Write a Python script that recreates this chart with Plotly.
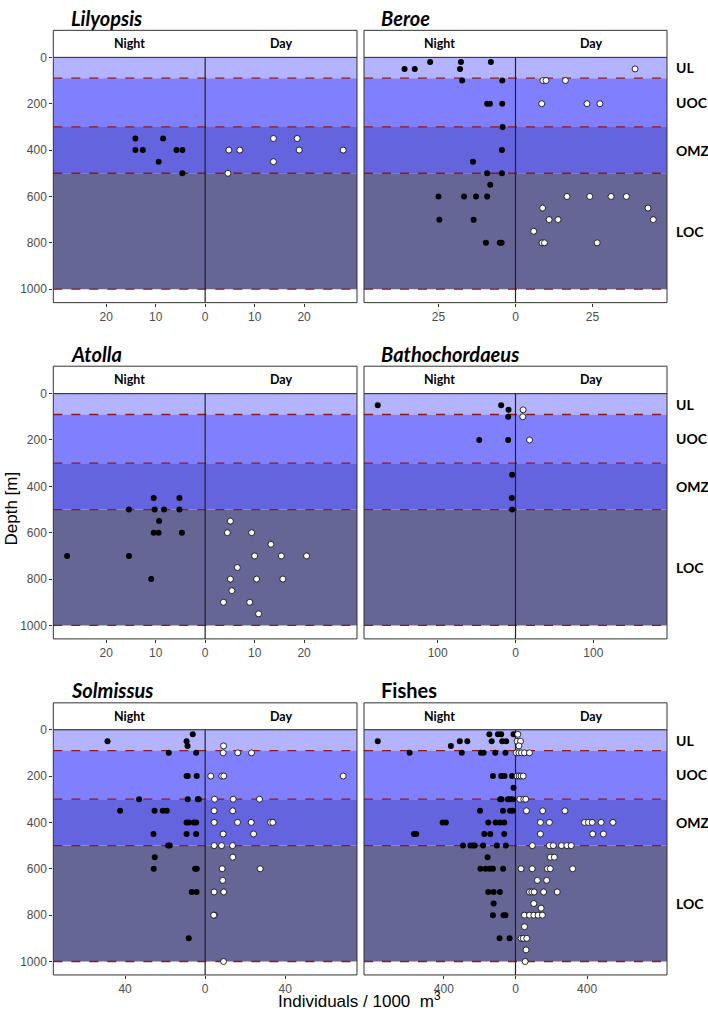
import plotly.graph_objects as go

# ---------------- data (night values are abundances, plotted to the left) ----------------
lilyopsis_night_depth = [350, 350, 400, 400, 400, 400, 450, 500]
lilyopsis_night_val = [14.1, 8.5, 14.1, 12.6, 5.8, 4.6, 9.4, 4.6]
lilyopsis_day_depth = [400, 400, 350, 350, 400, 400, 450, 500]
lilyopsis_day_val = [4.8, 7.0, 13.8, 18.6, 19.0, 27.9, 13.8, 4.6]

beroe_night_depth = [20, 20, 20, 50, 50, 50, 100, 100, 200, 200, 200, 300, 400, 450, 500, 500,
                     550, 600, 600, 600, 600, 700, 700, 800, 800, 800]
beroe_night_val = [27.7, 17.7, 8.0, 36.0, 32.7, 18.0, 17.3, 4.3, 9.2, 8.3, 4.3, 4.2, 4.4, 13.8, 9.2, 4.4,
                   8.2, 25.0, 16.7, 12.8, 9.2, 24.7, 13.6, 9.6, 5.1, 4.5]
beroe_day_depth = [50, 100, 100, 100, 200, 200, 200, 600, 600, 600, 600, 650, 650, 700, 700, 700,
                   750, 800, 800, 800]
beroe_day_val = [38.8, 8.9, 9.9, 16.2, 8.5, 23.2, 27.4, 16.7, 24.1, 31.0, 36.0, 8.8, 43.0, 10.9, 13.8, 44.7,
                 5.9, 8.6, 9.4, 26.5]

atolla_night_depth = [450, 450, 500, 500, 500, 500, 550, 600, 600, 600, 700, 700, 800]
atolla_night_val = [10.4, 5.2, 15.4, 10.2, 8.3, 5.2, 9.3, 10.4, 9.4, 4.7, 27.9, 15.4, 10.9]
atolla_day_depth = [550, 600, 600, 650, 700, 700, 700, 750, 800, 800, 800, 850, 900, 900, 950]
atolla_day_val = [5.1, 4.5, 9.4, 13.3, 10.0, 15.4, 20.5, 6.5, 5.1, 10.4, 15.7, 5.4, 3.7, 9.0, 10.8]

batho_night_depth = [50, 50, 70, 100, 200, 200, 350, 450, 500]
batho_night_val = [177.0, 18.4, 9.0, 9.4, 46.6, 9.4, 4.3, 4.7, 4.3]
batho_day_depth = [70, 100, 200]
batho_day_val = [9.8, 9.4, 18.0]

solmissus_night_depth = [20, 50, 50, 70, 100, 100, 200, 200, 200, 300, 300, 300, 300, 350, 350, 350, 350,
                         400, 400, 400, 400, 450, 450, 450, 500, 500, 550, 600, 600, 600, 700, 700, 900]
solmissus_night_val = [6.2, 48.8, 9.3, 8.8, 18.2, 4.5, 9.3, 8.7, 4.2, 33.0, 8.7, 3.7, 3.2, 42.5, 25.3, 21.2, 19.2,
                       9.3, 8.2, 5.7, 4.5, 25.8, 9.3, 4.5, 18.5, 17.7, 25.2, 25.7, 5.0, 4.2, 6.7, 4.3, 8.2]
solmissus_day_depth = [70, 100, 100, 100, 200, 200, 200, 200, 300, 300, 300, 350, 350, 400, 400, 400, 400, 400,
                       450, 450, 500, 500, 500, 550, 600, 600, 650, 700, 700, 800, 800, 1000]
solmissus_day_val = [9.2, 9.0, 16.3, 23.2, 2.8, 8.3, 9.3, 69.0, 4.7, 14.0, 27.2, 4.5, 13.8, 4.5, 16.2, 23.0, 32.7, 33.8,
                     9.0, 24.2, 4.5, 8.2, 13.7, 13.8, 8.5, 27.5, 8.8, 4.5, 9.3, 4.7, 4.3, 9.2]

fishes_night_depth = [20, 20, 20, 20,
                      50, 50, 50, 50, 50, 50,
                      70,
                      100, 100, 100, 100, 100, 100,
                      200, 200, 200, 200,
                      250,
                      300, 300, 300, 300, 300,
                      350, 350, 350, 350,
                      400, 400, 400, 400, 400, 400,
                      450, 450, 450, 450, 450,
                      500, 500, 500, 500, 500, 500, 500,
                      550,
                      600, 600, 600, 600, 600,
                      700, 700, 700,
                      750,
                      800, 800, 800,
                      900, 900]
fishes_night_val = [146, 98, 80, 11,
                    769, 311, 269, 133, 74, 52,
                    361,
                    591, 300, 193, 178, 113, 56,
                    126, 80, 61, 19,
                    11,
                    85, 78, 43, 30, 15,
                    198, 70, 30, 15,
                    407, 389, 152, 111, 87, 63,
                    567, 554, 174, 141, 63,
                    293, 252, 237, 228, 181, 104, 54,
                    156,
                    196, 167, 144, 126, 69,
                    152, 122, 87,
                    122,
                    126, 67, 56,
                    89, 33]
fishes_day_depth = [20,
                    50, 50,
                    70,
                    100, 100, 100, 100, 100,
                    200, 200, 200, 200,
                    300, 300, 300,
                    350, 350, 350,
                    400, 400, 400, 400, 400, 400, 400,
                    450, 450, 450,
                    500, 500, 500, 500, 500, 500,
                    550, 550,
                    600, 600, 600, 600, 600,
                    650, 650,
                    700, 700, 700, 700, 700,
                    750, 770,
                    800, 800, 800, 800, 800,
                    850,
                    900, 900, 900,
                    950,
                    1000]
fishes_day_val = [13,
                  9, 28,
                  19,
                  4, 19, 33, 50, 78,
                  9, 20, 31, 43,
                  24, 46, 57,
                  61, 152, 276,
                  139, 189, 385, 407, 428, 478, 544,
                  139, 431, 491,
                  94, 189, 211, 257, 287, 311,
                  194, 217,
                  31, 93, 178, 194, 319,
                  122, 174,
                  78, 91, 104, 157, 233,
                  102, 143,
                  50, 78, 102, 126, 150,
                  50,
                  31, 43, 63,
                  59,
                  54]

panel_titles = ["<b><i>Lilyopsis</i></b>", "<b><i>Beroe</i></b>", "<b><i>Atolla</i></b>",
                "<b><i>Bathochordaeus</i></b>", "<b><i>Solmissus</i></b>", "<b>Fishes</b>"]
panel_ticks = [[20, 10, 0, 10, 20], [25, 0, 25], [20, 10, 0, 10, 20], [100, 0, 100], [40, 0, 40], [400, 0, 400]]
depth_ticks = [0, 200, 400, 600, 800, 1000]
zone_edges = [0, 90, 300, 500, 1000]
zone_names = ["UL", "UOC", "OMZ", "LOC"]
zone_colors = ["#b3b3ff", "#8080ff", "#6464de", "#666696"]
strip_labels = ["Night", "Day"]

panels = [
    (lilyopsis_night_depth, lilyopsis_night_val, lilyopsis_day_depth, lilyopsis_day_val),
    (beroe_night_depth, beroe_night_val, beroe_day_depth, beroe_day_val),
    (atolla_night_depth, atolla_night_val, atolla_day_depth, atolla_day_val),
    (batho_night_depth, batho_night_val, batho_day_depth, batho_day_val),
    (solmissus_night_depth, solmissus_night_val, solmissus_day_depth, solmissus_day_val),
    (fishes_night_depth, fishes_night_val, fishes_day_depth, fishes_day_val),
]

# ---------------- layout geometry (pixels) ----------------
W, H = 708, 1012
col_x = [(53.3, 357.0), (364.0, 667.0)]
row_y = [(23.5, 50.7, 297.7), (361.7, 389.3, 636.3), (700.7, 727.7, 974.7)]  # strip top, panel top, panel bottom
title_y = [11, 349, 688]
title_x = [69, 379]
Y_MAX = 1058


def fx(p):
    return p / W


def fy(p):
    return 1 - p / H


fig = go.Figure()
shapes = []
annotations = []
BORDER = "#333333"
TICKFONT = dict(family="Liberation Sans, Arial", size=12, color="#4d4d4d")

for i, (nd, nv, dd, dv) in enumerate(panels):
    k = i + 1
    row, col = divmod(i, 2)
    xa = "x" if k == 1 else f"x{k}"
    ya = "y" if k == 1 else f"y{k}"
    x0p, x1p = col_x[col]
    st, pt, pb = row_y[row]
    rng = 1.1 * max(max(nv), max(dv))

    fig.add_trace(go.Scatter(x=[-v for v in nv], y=nd, xaxis=xa, yaxis=ya, mode="markers",
                             marker=dict(size=6, color="black", line=dict(width=0)),
                             showlegend=False, hoverinfo="x+y"))
    fig.add_trace(go.Scatter(x=dv, y=dd, xaxis=xa, yaxis=ya, mode="markers",
                             marker=dict(size=6, color="white", line=dict(width=0.8, color="black")),
                             showlegend=False, hoverinfo="x+y"))

    ticks = panel_ticks[i]
    half = len(ticks) // 2
    tickvals = [(-t if j < half else t) for j, t in enumerate(ticks)]
    fig.layout[f"xaxis{'' if k == 1 else k}"] = dict(
        domain=[fx(x0p), fx(x1p)], range=[-rng, rng], anchor=ya,
        tickvals=tickvals, ticktext=[str(t) for t in ticks],
        showgrid=False, zeroline=False, showline=False,
        ticks="outside", ticklen=3, tickwidth=1, tickcolor=BORDER, tickfont=TICKFONT,
        fixedrange=True)
    yax = dict(domain=[fy(pb), fy(pt)], range=[Y_MAX, 0], anchor=xa,
               showgrid=False, zeroline=False, showline=False, fixedrange=True)
    if col == 0:
        yax.update(tickvals=depth_ticks, ticks="outside", ticklen=3, tickwidth=1,
                   tickcolor=BORDER, tickfont=TICKFONT)
    else:
        yax.update(showticklabels=False, ticks="")
    fig.layout[f"yaxis{'' if k == 1 else k}"] = yax

    # depth-zone bands
    for z in range(len(zone_names)):
        shapes.append(dict(type="rect", xref=f"{xa} domain", yref=ya, x0=0, x1=1,
                           y0=zone_edges[z], y1=zone_edges[z + 1], fillcolor=zone_colors[z],
                           line=dict(width=0), layer="below"))
    for e in zone_edges[1:]:
        shapes.append(dict(type="line", xref=f"{xa} domain", yref=ya, x0=0, x1=1, y0=e, y1=e,
                           line=dict(color="#8b1a1a", width=1.3, dash="dash"), layer="below"))
    # centre line
    shapes.append(dict(type="line", xref=xa, yref=f"{ya} domain", x0=0, x1=0, y0=0, y1=1,
                       line=dict(color="#222222", width=1.2), layer="below"))
    # panel border
    shapes.append(dict(type="rect", xref=f"{xa} domain", yref=f"{ya} domain", x0=0, x1=1, y0=0, y1=1,
                       line=dict(color=BORDER, width=1), fillcolor="rgba(0,0,0,0)", layer="above"))
    # strip
    shapes.append(dict(type="rect", xref="paper", yref="paper", x0=fx(x0p), x1=fx(x1p),
                       y0=fy(pt), y1=fy(st), fillcolor="white", line=dict(color=BORDER, width=1)))
    mid = (x0p + x1p) / 2
    for lab, cx in zip(strip_labels, [(x0p + mid) / 2, (mid + x1p) / 2]):
        annotations.append(dict(text=f"<b>{lab}</b>", x=fx(cx), y=fy((st + pt) / 2), xref="paper", yref="paper",
                                showarrow=False, xanchor="center", yanchor="middle",
                                font=dict(family="Lato, Noto Sans", size=12.5, color="black")))
    # panel title
    annotations.append(dict(text=panel_titles[i], x=fx(title_x[col]), y=fy(title_y[row]), xref="paper",
                            yref="paper", showarrow=False, xanchor="left", yanchor="middle",
                            font=dict(family="Lato, Noto Sans", size=20, color="black")))
    # zone labels on the right column
    if col == 1:
        for z, name in enumerate(zone_names):
            annotations.append(dict(text=f"<b>{name}</b>", x=fx(674), xref="paper",
                                    y=(zone_edges[z] + zone_edges[z + 1]) / 2, yref=ya,
                                    showarrow=False, xanchor="left", yanchor="middle",
                                    font=dict(family="Lato, Noto Sans", size=14, color="black")))

annotations.append(dict(text="Depth [m]", x=fx(12), y=fy(505), xref="paper", yref="paper", showarrow=False,
                        textangle=-90, xanchor="center", yanchor="middle",
                        font=dict(family="Liberation Sans, Arial", size=17, color="black")))
annotations.append(dict(text="Individuals / 1000  m<sup>3</sup>", x=fx(359), y=fy(1000), xref="paper", yref="paper",
                        showarrow=False, xanchor="center", yanchor="middle",
                        font=dict(family="Liberation Sans, Arial", size=17, color="black")))

fig.update_layout(width=W, height=H, margin=dict(l=0, r=0, t=0, b=0),
                  paper_bgcolor="white", plot_bgcolor="white",
                  shapes=shapes, annotations=annotations, showlegend=False)
fig.write_html("out.html", config={"displayModeBar": False},
               post_script="document.body.style.margin='0';document.body.style.overflow='hidden';")
